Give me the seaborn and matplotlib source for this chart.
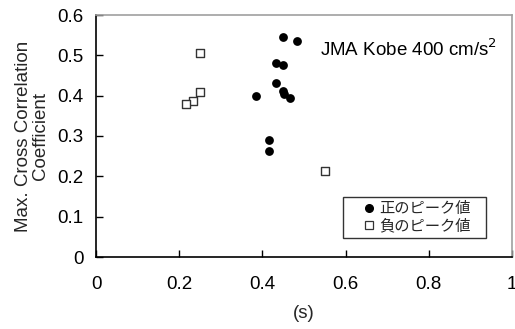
import matplotlib
matplotlib.use("Agg")
import matplotlib.pyplot as plt
import seaborn as sns
import pandas as pd
from matplotlib.lines import Line2D

pos_x = [0.449, 0.483, 0.432, 0.450, 0.432, 0.450, 0.452, 0.466, 0.384, 0.416, 0.416]
pos_y = [0.546, 0.536, 0.482, 0.476, 0.431, 0.412, 0.404, 0.395, 0.399, 0.290, 0.263]
neg_x = [0.250, 0.250, 0.234, 0.217, 0.551]
neg_y = [0.507, 0.409, 0.387, 0.379, 0.212]
legend_labels = ["正のピーク値", "負のピーク値"]
x_ticks = [0, 0.2, 0.4, 0.6, 0.8, 1]
y_ticks = [0, 0.1, 0.2, 0.3, 0.4, 0.5, 0.6]

sns.set_theme(style="white")
plt.rcParams['font.family'] = ['Liberation Sans', 'Noto Sans CJK JP', 'DejaVu Sans']

fig = plt.figure(figsize=(5.15, 3.29), dpi=100)
ax = fig.add_axes([96/515, 72/329, 416/515, 242/329])

df_pos = pd.DataFrame({"x": pos_x, "y": pos_y})
df_neg = pd.DataFrame({"x": neg_x, "y": neg_y})
sns.scatterplot(data=df_pos, x="x", y="y", ax=ax, marker="o", s=40,
                color="black", edgecolor="black", linewidth=0, zorder=3)
sns.scatterplot(data=df_neg, x="x", y="y", ax=ax, marker="s", s=34,
                facecolor="white", edgecolor="#333333", linewidth=1.0, zorder=3)

ax.set_xlim(0, 1)
ax.set_ylim(0, 0.6)
ax.set_xticks(x_ticks)
ax.set_xticklabels(["0", "0.2", "0.4", "0.6", "0.8", "1"])
ax.set_yticks(y_ticks)
ax.set_yticklabels(["0", "0.1", "0.2", "0.3", "0.4", "0.5", "0.6"])
ax.tick_params(axis="both", direction="in", length=5, width=1, color="black",
               labelsize=13.5, labelcolor="black")
ax.tick_params(axis="y", pad=9)
ax.tick_params(axis="x", pad=14)
ax.xaxis.set_ticks_position("bottom")
ax.yaxis.set_ticks_position("left")
for s in ["left", "bottom"]:
    ax.spines[s].set_color("black")
    ax.spines[s].set_linewidth(1.2)
for s in ["top", "right"]:
    ax.spines[s].set_color("#a0a0a0")
    ax.spines[s].set_linewidth(1.2)

ax.set_xlabel("(s)", fontsize=13.5, labelpad=8)
ax.set_ylabel("Max. Cross Correlation\nCoefficient", fontsize=13.5, labelpad=6, linespacing=1.0)

ax.text(0.539, 0.515, "JMA Kobe 400 cm/s$^{2}$", fontsize=13.5, color="black",
        transform=ax.transData, va="center", ha="left")

handles = [
    Line2D([], [], marker="o", linestyle="none", markersize=5.5, markerfacecolor="black",
           markeredgecolor="black"),
    Line2D([], [], marker="s", linestyle="none", markersize=5.5, markerfacecolor="white",
           markeredgecolor="#333333", markeredgewidth=0.9),
]
leg = ax.legend(handles, legend_labels, loc="upper left",
                bbox_to_anchor=(247/416, 25/242, 143/416, 35/242), mode="expand",
                frameon=True, fancybox=False, handlelength=3.0,
                handletextpad=-0.8, borderpad=0.2, labelspacing=0.05, borderaxespad=0,
                prop={"family": ["Noto Sans CJK JP"], "size": 11})
leg.get_frame().set_edgecolor("black")
leg.get_frame().set_linewidth(1.0)

fig.savefig("out.png", dpi=100)
